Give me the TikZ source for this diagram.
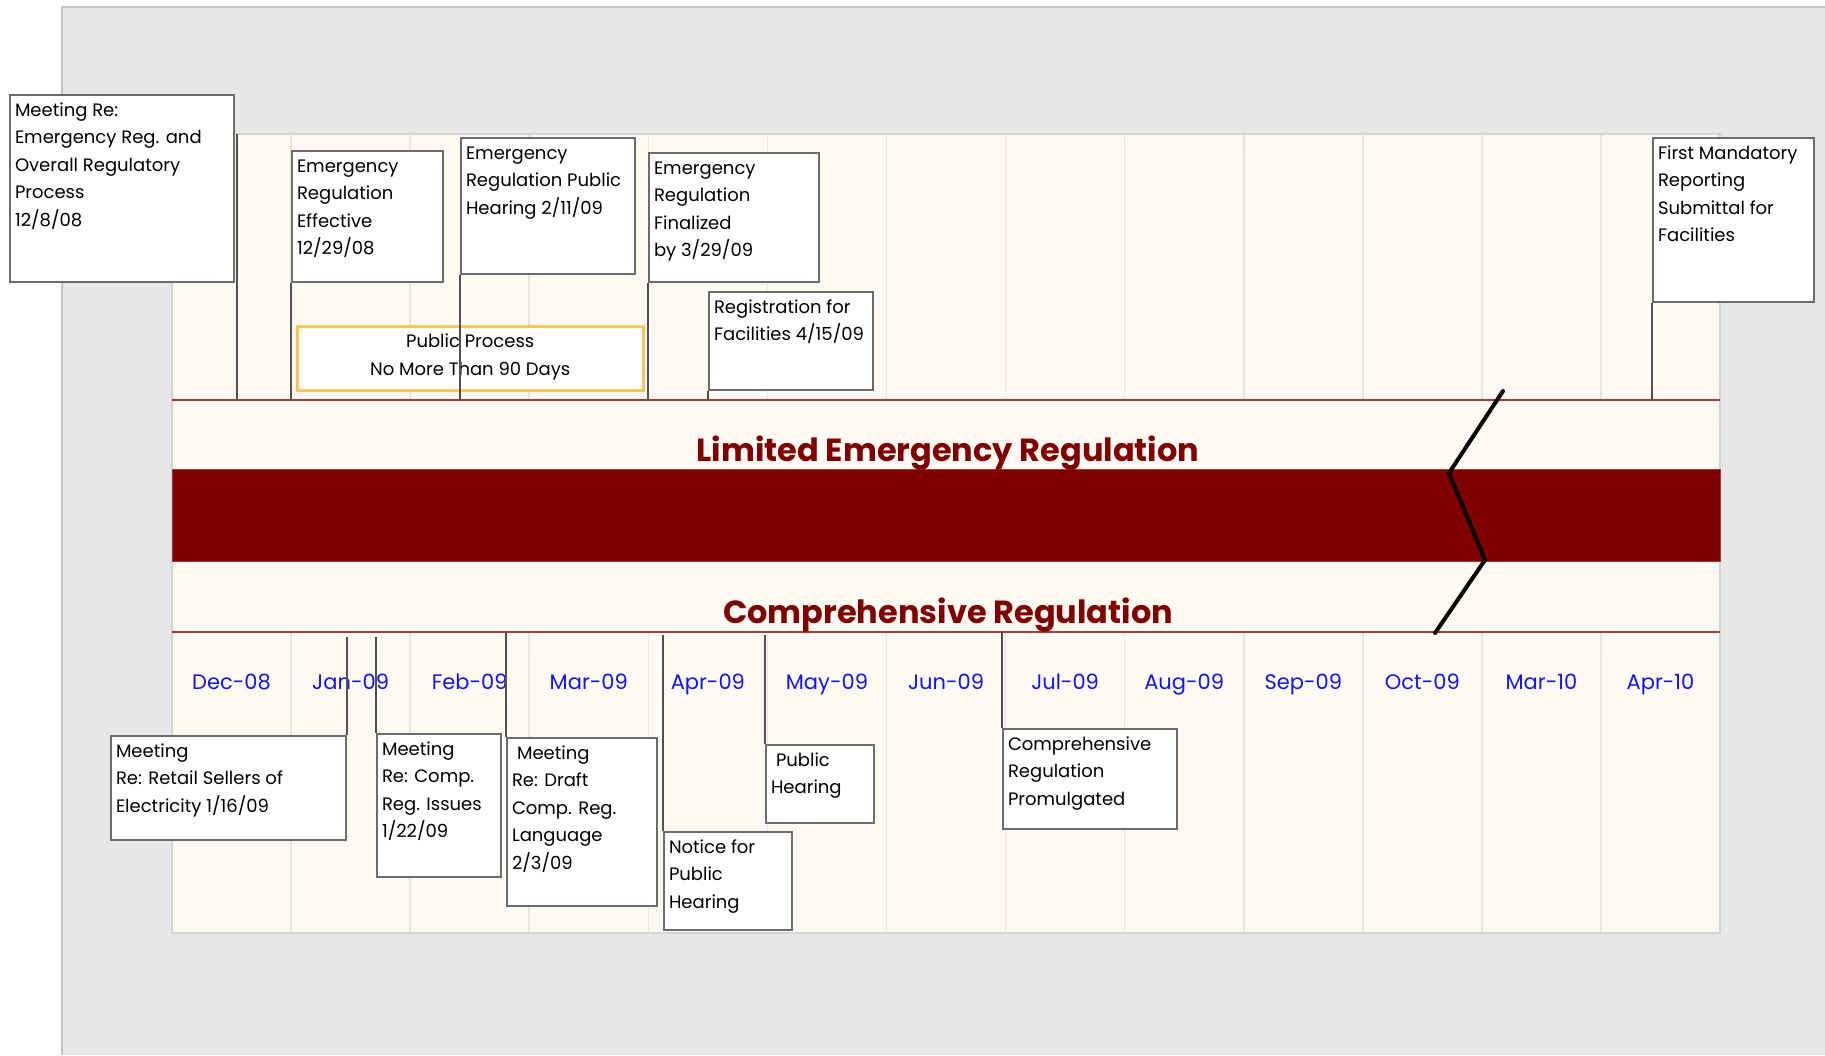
\documentclass[tikz,border=0pt]{standalone}
\usepackage{fontspec}
\setmainfont{Poppins}
\usetikzlibrary{calc}

\definecolor{pagegray}{HTML}{E7E7E7}
\definecolor{pageedge}{HTML}{C4C4C4}
\definecolor{cream}{HTML}{FDFAF3}
\definecolor{creamedge}{HTML}{D3D3D3}
\definecolor{gridc}{HTML}{E8E5DF}
\definecolor{redline}{HTML}{A63A3A}
\definecolor{bandred}{HTML}{800000}
\definecolor{monthblue}{HTML}{1414F0}
\definecolor{boxline}{HTML}{6C6C6C}
\definecolor{connc}{HTML}{505050}
\definecolor{ppline}{HTML}{FFC45C}

\newcommand{\evfont}{\fontsize{18}{27.5}\selectfont}
\newcommand{\monthfont}{\fontsize{21}{24}\selectfont}
\newcommand{\bigtitlefont}{\fontsize{32}{36}\selectfont\bfseries}
% top-aligned text block of given width and height (in pt)
\newcommand{\evtext}[3]{\parbox[t][#2pt][t]{#1pt}{\begin{tabular}[t]{@{}l@{}}#3\end{tabular}}}

\tikzset{
  evt/.style={rectangle, draw=boxline, line width=2pt, fill=white,
    inner xsep=5pt, inner ysep=2pt, anchor=north west, font=\evfont},
  ppbox/.style={rectangle, draw=ppline, line width=2.5pt, fill=white,
    inner xsep=5pt, inner ysep=2pt, anchor=north west, font=\evfont},
  conn/.style={draw=connc, line width=2pt},
  gridline/.style={draw=gridc, line width=1.6pt},
  redrule/.style={draw=redline, line width=2pt},
  month/.style={text=monthblue, font=\monthfont, anchor=base},
  bandtitle/.style={text=bandred, font=\bigtitlefont, anchor=base},
  breakmark/.style={draw=black, line width=4pt, line cap=round, line join=miter}
}

\begin{document}
\begin{tikzpicture}[x=1pt, y=-1pt]
  \useasboundingbox (0,0) rectangle (1825,1055);
  \fill[white] (0,0) rectangle (1825,1055);

  % page background
  \fill[pagegray] (62,7) rectangle (1825,1055);
  \draw[pageedge, line width=2pt] (62,1055) -- (62,7) -- (1825,7);

  % chart area
  \filldraw[fill=cream, draw=creamedge, line width=2pt] (172,134) rectangle (1720,933);

  % month columns
  \foreach \k in {1,...,12} {
    \draw[gridline] ({172+119.08*\k},135) -- ({172+119.08*\k},400);
    \draw[gridline] ({172+119.08*\k},632) -- ({172+119.08*\k},932);
  }

  % rules and band
  \coordinate (rtop) at (172,400);
  \coordinate (rbot) at (172,632);
  \draw[redrule] (rtop) -- (1720,400);
  \draw[redrule] (rbot) -- (1720,632);
  \filldraw[fill=bandred, draw=redline, line width=1pt] (172,469) rectangle (1720,561);

  \node[bandtitle] (limited) at (948,461) {Limited Emergency Regulation};
  \node[bandtitle] (compreg) at (948,623) {Comprehensive Regulation};

  % time-axis break
  \draw[breakmark] (1503,391) -- (1449,473) -- (1485,560) -- (1435,633);

  % month labels
  \foreach \m [count=\i from 0] in {Dec-08,Jan-09,Feb-09,Mar-09,Apr-09,May-09,Jun-09,Jul-09,Aug-09,Sep-09,Oct-09,Mar-10,Apr-10}
    \node[month] (m\i) at ({172+119.08*(\i+0.5)},689) {\m};

  % public process window
  \node[ppbox] (pp) at (296,325)
    {\parbox[t][60pt][t]{336pt}{\centering\begin{tabular}[t]{@{}c@{}}Public Process\\No More Than 90 Days\end{tabular}}};

  % events above the band
  \node[evt] (a) at (9,94)
    {\evtext{214}{183}{Meeting Re:\\Emergency Reg. and\\Overall Regulatory\\Process\\12/8/08}};
  \node[evt] (b) at (291,150)
    {\evtext{141}{127}{Emergency\\Regulation\\Effective\\12/29/08}};
  \node[evt] (c) at (460,137)
    {\evtext{164}{132}{Emergency\\Regulation Public\\Hearing 2/11/09}};
  \node[evt] (d) at (648,152)
    {\evtext{160}{125}{Emergency\\Regulation\\Finalized\\by 3/29/09}};
  \node[evt] (e) at (708,291)
    {\evtext{154}{94}{Registration for\\Facilities 4/15/09}};
  \node[evt] (f) at (1652,137)
    {\evtext{151}{160}{First Mandatory\\Reporting\\Submittal for\\Facilities}};

  % events below the band
  \node[evt] (g) at (110,735)
    {\evtext{225}{100}{Meeting\\Re: Retail Sellers of\\Electricity 1/16/09}};
  \node[evt] (h) at (376,733)
    {\evtext{114}{139}{Meeting\\Re: Comp.\\Reg. Issues\\1/22/09}};
  \node[evt] (i) at (506,737)
    {\evtext{140}{164}{\hspace{5pt}Meeting\\Re: Draft\\Comp. Reg.\\Language\\2/3/09}};
  \node[evt] (j) at (663,831)
    {\evtext{118}{94}{Notice for\\Public\\Hearing}};
  \node[evt] (k) at (765,744)
    {\evtext{98}{74}{\hspace{5pt}Public\\Hearing}};
  \node[evt] (l) at (1002,728)
    {\evtext{164}{96}{Comprehensive\\Regulation\\Promulgated}};

  % leaders to the rules
  \draw[conn] ([xshift=2pt,yshift=-40pt]a.north east) -- ([xshift=2pt]a.north east |- rtop);
  \draw[conn] (b.south west) -- (b.south west |- rtop);
  \draw[conn] (c.south west) -- (c.south west |- rtop);
  \draw[conn] (d.south west) -- (d.south west |- rtop);
  \draw[conn] (e.south west) -- (e.south west |- rtop);
  \draw[conn] (f.south west) -- (f.south west |- rtop);

  \draw[conn] ([yshift=-5pt]g.north east |- rbot) -- (g.north east);
  \draw[conn] ([yshift=-5pt]h.north west |- rbot) -- (h.north west);
  \draw[conn] ([yshift=-1pt]i.north west |- rbot) -- (i.north west);
  \draw[conn] ([yshift=-3pt]j.north west |- rbot) -- (j.north west);
  \draw[conn] ([yshift=-3pt]k.north west |- rbot) -- (k.north west);
  \draw[conn] (l.north west |- rbot) -- (l.north west);
\end{tikzpicture}
\end{document}
